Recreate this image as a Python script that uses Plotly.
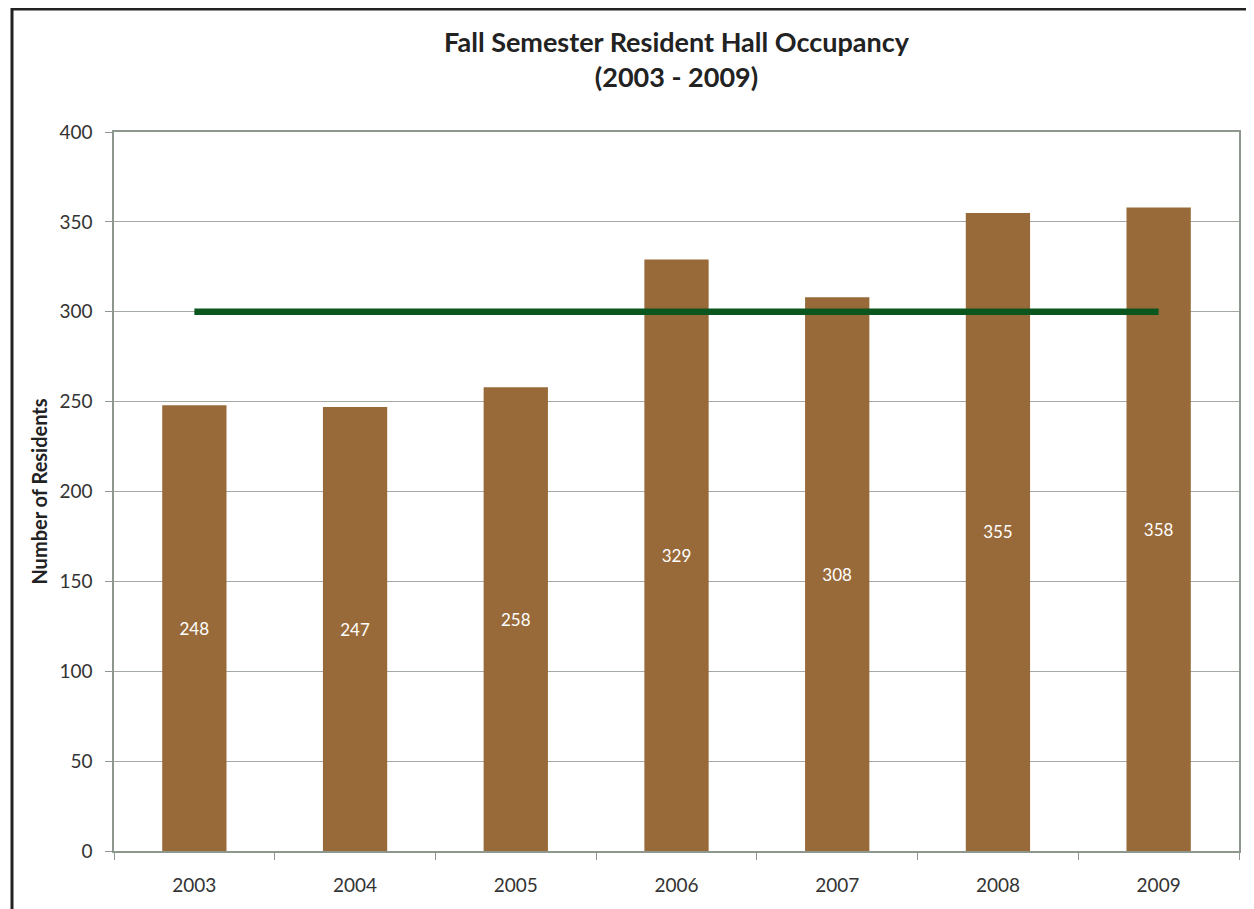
import plotly.graph_objects as go

years = ["2003", "2004", "2005", "2006", "2007", "2008", "2009"]
residents = [248, 247, 258, 329, 308, 355, 358]
target = [300, 300, 300, 300, 300, 300, 300]
title_text = "Fall Semester Resident Hall Occupancy<br>(2003 - 2009)"
y_title = "Number of Residents"

# page is rendered with an ~7px body offset
OFF = 7
W, H = 1254, 909
L, T = 113 - OFF, 131 - OFF
R = W - (1238 - OFF)
B = H - (850 - OFF)
pw, ph = W - L - R, H - T - B

fig = go.Figure()
fig.add_trace(go.Bar(
    x=years, y=residents, marker=dict(color="#996A39", line=dict(width=0)),
    width=0.4, text=[str(v) for v in residents], textposition="inside",
    insidetextanchor="middle", textangle=0,
    textfont=dict(color="white", size=17, family="Lato"), showlegend=False,
))
fig.add_trace(go.Scatter(
    x=years, y=target, mode="lines",
    line=dict(color="#0B561F", width=6.5), showlegend=False,
))

def px_x(p):
    return (p - OFF - L) / pw

def px_y(p):
    return (H - B - (p - OFF)) / ph

fig.add_shape(type="rect", xref="paper", yref="paper",
              x0=px_x(11), x1=px_x(1275), y0=px_y(930), y1=px_y(8),
              line=dict(color="#222222", width=3), fillcolor="rgba(0,0,0,0)", layer="above")

fig.update_layout(
    width=W, height=H, margin=dict(l=L, r=R, t=T, b=B),
    paper_bgcolor="white", plot_bgcolor="white",
    title=dict(text=title_text, x=0.5, xanchor="center", xref="paper",
               y=1 - 44 / H, yanchor="top",
               font=dict(family="Lato", size=27, color="#222222", weight="bold")),
    font=dict(family="Lato", color="#333333"),
    bargap=0.6,
)
fig.update_xaxes(type="category", tickson="boundaries", ticks="outside", ticklen=7,
                 tickcolor="#8E978E", showline=True, linecolor="#8E978E", linewidth=2,
                 mirror=True, showgrid=False, tickfont=dict(size=19, color="#333333"),
                 ticklabelstandoff=16)
fig.update_yaxes(range=[0, 400], dtick=50, ticks="outside", ticklen=7, tickcolor="#8E978E",
                 showline=True, linecolor="#8E978E", linewidth=1.5, mirror=True,
                 gridcolor="#A3AAA3", gridwidth=1, zeroline=False,
                 tickfont=dict(size=19, color="#333333"), ticklabelstandoff=9,
                 title=dict(text=y_title, standoff=6,
                            font=dict(size=20, color="#222222", weight="bold")))

fig.write_html("out.html")
